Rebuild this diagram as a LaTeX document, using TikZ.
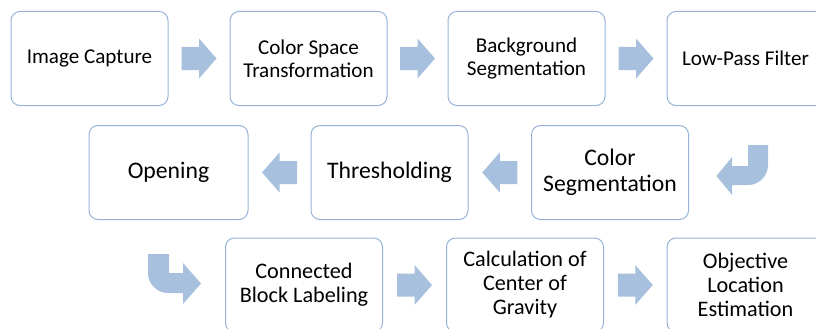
\documentclass[tikz,border=0pt]{standalone}
\usepackage{fontspec}
\setmainfont{Carlito}
\usetikzlibrary{calc}
\definecolor{boxblue}{RGB}{149,179,215}
\definecolor{arrowblue}{RGB}{167,192,222}
\begin{document}
\begin{tikzpicture}[x=1pt,y=-1pt,
  box/.style={draw=boxblue, line width=1pt, rounded corners=9pt, minimum width=157pt, minimum height=94pt,
    align=center, inner sep=0pt, font=\fontsize{21.1}{22.6}\selectfont},
  rowtwo/.style={font=\fontsize{23.7}{26}\selectfont},
  rowthree/.style={font=\fontsize{22.2}{24}\selectfont},
  blockarrow/.pic={\fill[arrowblue] (-17.5,-11.5) -- (0,-11.5) -- (0,-20) -- (17.5,0) -- (0,20) -- (0,11.5) -- (-17.5,11.5) -- cycle;}]
\useasboundingbox (0,0) rectangle (816,329);
\clip (0,0) rectangle (816,329);
\node[box] (b1) at (89.5,58.5) {Image Capture};
\node[box] (b2) at (308.5,58.5) {Color Space\\Transformation};
\node[box] (b3) at (526.5,58.5) {Background\\Segmentation};
\node[box] (b4) at (745.5,58.5) {Low-Pass Filter};
\node[box, rowtwo] (b5) at (610,172.5) {Color\\Segmentation};
\node[box, rowtwo] (b6) at (389.5,172.5) {Thresholding};
\node[box, rowtwo, minimum width=159pt] (b7) at (168.5,172.5) {Opening};
\node[box, rowthree] (b8) at (304,285) {Connected\\Block Labeling};
\node[box, rowthree] (b9) at (525,285) {Calculation of\\Center of\\Gravity};
\node[box, rowthree] (b10) at (745.5,285) {Objective\\Location\\Estimation};
% straight block arrows
\pic (a1) at ($(b1.east)!0.5!(b2.west)$) {blockarrow};
\pic (a2) at ($(b2.east)!0.5!(b3.west)$) {blockarrow};
\pic (a3) at ($(b3.east)!0.5!(b4.west)$) {blockarrow};
\pic[rotate=180] (a5) at ($(b5.west)!0.5!(b6.east)$) {blockarrow};
\pic[rotate=180] (a6) at ($(b6.west)!0.5!(b7.east)$) {blockarrow};
\pic (a8) at ($(b8.east)!0.5!(b9.west)$) {blockarrow};
\pic (a9) at ($(b9.east)!0.5!(b10.west)$) {blockarrow};
% bent arrow (top right: down then left)
\fill[arrowblue] (748,145) -- (768,145) -- (768,165) arc[start angle=0, end angle=90, radius=20] -- (732,185)
  -- (732,195) -- (716.5,176) -- (732,157) -- (732,166) -- (748,166) -- cycle;
% bent arrow (bottom left: down then right)
\fill[arrowblue] (148,254) -- (169,254) -- (169,273) -- (183,273) -- (183,263) -- (201,283.5)
  -- (183,304) -- (183,293) -- (168,293) arc[start angle=90, end angle=180, radius=20] -- cycle;
\end{tikzpicture}
\end{document}
